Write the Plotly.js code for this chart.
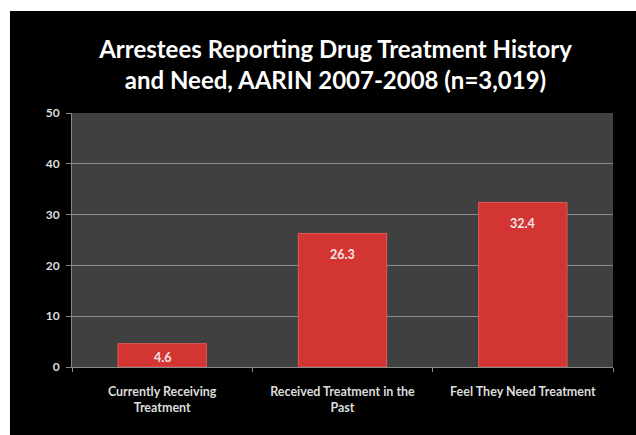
<!DOCTYPE html>
<html>
<head>
<meta charset="utf-8">
<script src="https://cdn.plot.ly/plotly-3.0.1.min.js"></script>
<style>
  html, body { margin: 0; padding: 0; background: #ffffff; width: 636px; height: 435px; overflow: hidden; }
  #chart { position: absolute; left: 10px; top: 11px; width: 626px; height: 424px; }
</style>
</head>
<body>
<div id="chart"></div>
<script>
const categories = ["Currently Receiving<br>Treatment", "Received Treatment in the<br>Past", "Feel They Need Treatment"];
const values = [4.6, 26.3, 32.4];
const valueLabels = ["4.6", "26.3", "32.4"];
const yTickValues = [0, 10, 20, 30, 40, 50];
const chartTitle = "Arrestees Reporting Drug Treatment History<br>and Need, AARIN 2007-2008 (n=3,019)";

const fontFam = 'Lato, "Open Sans", sans-serif';
const H = 424, M = { l: 62, r: 23, t: 102, b: 68 };
const yMax = 50;
const pxPerUnit = (H - M.t - M.b) / yMax;
const labelH = 14;

const trace = {
  type: 'bar',
  x: categories,
  y: values,
  marker: { color: '#d33533', line: { color: '#e35a56', width: 1 } },
  width: 0.49,
  hoverinfo: 'none'
};

const annotations = categories.map((c, i) => {
  const barPx = values[i] * pxPerUnit;
  const pad = Math.max(0, Math.min(12, (barPx - labelH) / 2));
  return {
    x: c, y: values[i], xref: 'x', yref: 'y',
    text: valueLabels[i], showarrow: false,
    yanchor: 'top', yshift: -pad,
    font: { family: fontFam, size: 12.5, color: '#f4e6e6', weight: 'bold' }
  };
});

const layout = {
  width: 626,
  height: H,
  paper_bgcolor: '#000000',
  plot_bgcolor: '#404040',
  margin: M,
  showlegend: false,
  annotations: annotations,
  title: {
    text: chartTitle,
    font: { family: fontFam, size: 24, color: '#ffffff', weight: 'bold' },
    x: 0.52, xref: 'container', xanchor: 'center',
    y: 0.889, yref: 'container', yanchor: 'middle'
  },
  xaxis: {
    type: 'category',
    showline: true, linecolor: '#8a8a8a', linewidth: 1,
    ticks: 'outside', tickson: 'boundaries', ticklen: 4, tickcolor: '#8a8a8a',
    tickangle: 0,
    ticklabelstandoff: 13,
    tickfont: { family: fontFam, size: 12.5, color: '#dcdcdc', weight: 'bold' },
    showgrid: false,
    fixedrange: true
  },
  yaxis: {
    range: [0, yMax],
    tickvals: yTickValues,
    ticktext: yTickValues.map(String),
    showline: true, linecolor: '#8a8a8a', linewidth: 1,
    ticks: 'outside', ticklen: 5, tickcolor: '#8a8a8a',
    ticklabelstandoff: 4,
    tickfont: { family: fontFam, size: 12, color: '#dcdcdc', weight: 'bold' },
    showgrid: true, gridcolor: '#8c8c8c', gridwidth: 1,
    zeroline: false,
    fixedrange: true
  }
};

Plotly.newPlot('chart', [trace], layout, { displayModeBar: false, staticPlot: true });
</script>
</body>
</html>
